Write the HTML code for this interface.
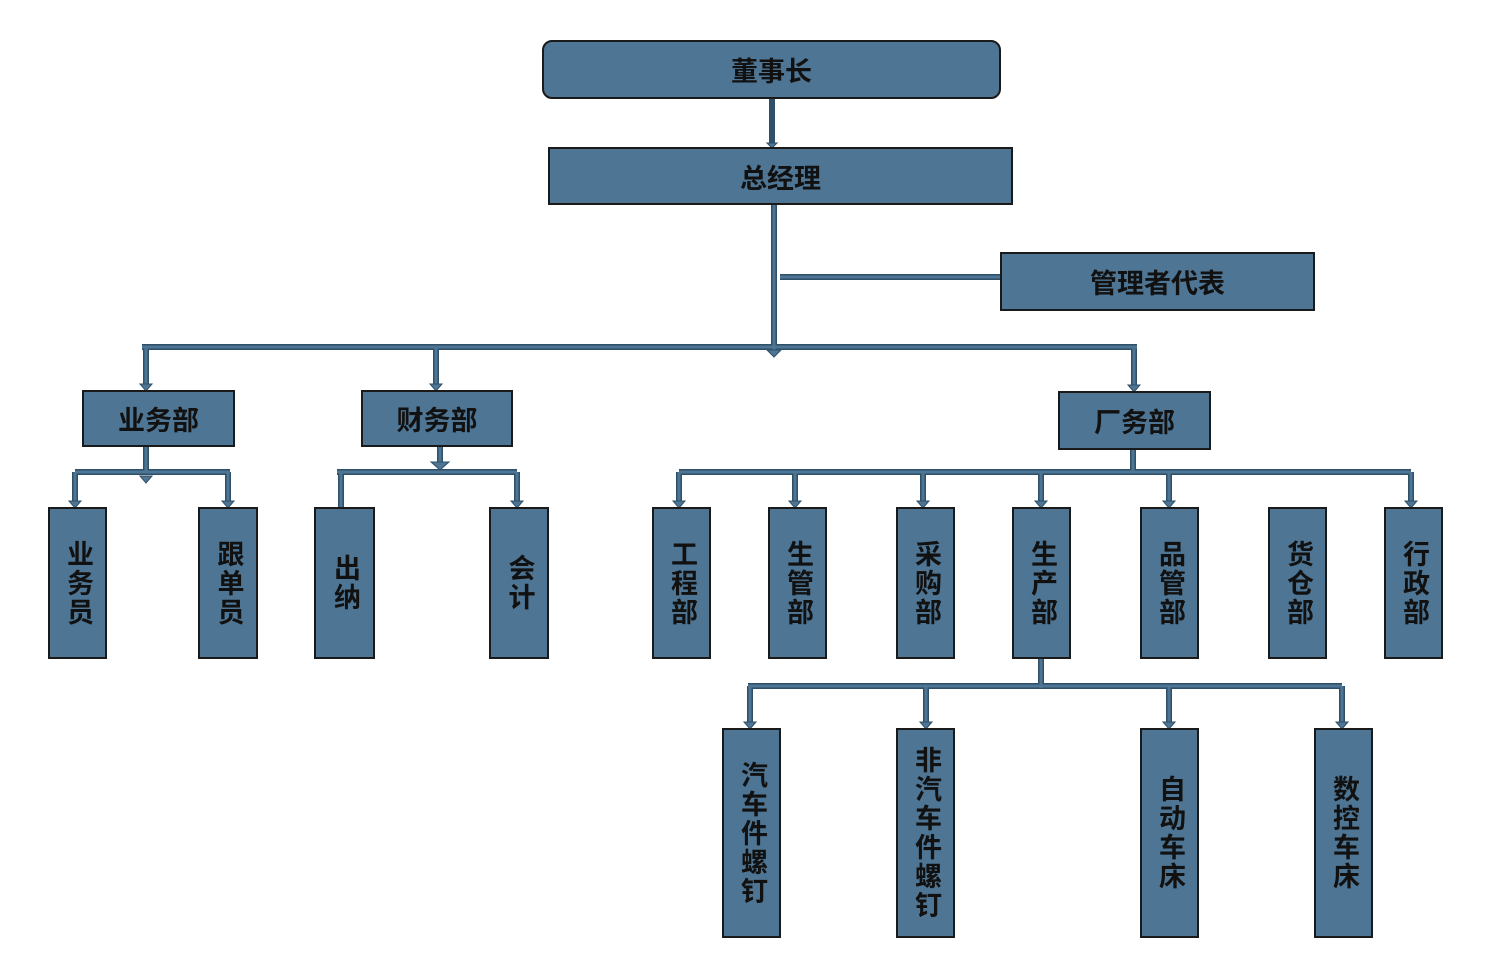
<!DOCTYPE html>
<html><head><meta charset="utf-8"><style>
body{margin:0;background:#fff;width:1500px;height:963px;overflow:hidden;position:relative;font-family:"Liberation Sans","Noto Sans CJK SC",sans-serif}
.b{position:absolute;background:#4e7593;border:2px solid #1a1a1a;box-sizing:border-box;display:flex;align-items:center;justify-content:center;color:#111;font-size:27px;font-weight:bold}
.v{writing-mode:vertical-rl;letter-spacing:2px;font-size:27px;line-height:1}
svg{position:absolute;left:0;top:0}
</style></head><body>
<svg width="1500" height="963">
<g stroke="#2e5069" stroke-width="6" fill="none"><path d="M772 98V144M774 195V350M780 277H1000M142 347H1137M146 347V386M436 347V386M1134 347V387M146 446V472M75 472H230M75 472V503M228 472V503M440 446V468M337 472H517M341 472V507M517 472V503M1133 449V472M679 472H1411M679 472V503M795 472V503M923 472V503M1041 472V503M1169 472V503M1411 472V503M1041 658V688M748 686H1342M750 686V724M926 686V724M1169 686V724M1342 686V724"/></g>
<g stroke="#4e7593" stroke-width="3" fill="none"><path d="M774 195V350M780 277H1000M142 347H1137M146 347V386M436 347V386M1134 347V387M146 446V472M75 472H230M75 472V503M228 472V503M440 446V468M337 472H517M341 472V507M517 472V503M1133 449V472M679 472H1411M679 472V503M795 472V503M923 472V503M1041 472V503M1169 472V503M1411 472V503M1041 658V688M748 686H1342M750 686V724M926 686V724M1169 686V724M1342 686V724"/></g>
<g fill="#4e7593" stroke="#2e5069" stroke-width="1">
<path d="M767 143h10l-5 5z"/><path d="M767 350h14l-7 7z"/>
<path d="M140 384h12l-6 7z"/><path d="M430 384h12l-6 7z"/><path d="M1128 385h12l-6 7z"/>
<path d="M140 476h12l-6 7z"/><path d="M69 501h12l-6 7z"/><path d="M222 501h12l-6 7z"/><path d="M431 462h18l-9 8z"/><path d="M511 501h12l-6 7z"/>
<path d="M673 501h12l-6 7z"/><path d="M789 501h12l-6 7z"/><path d="M917 501h12l-6 7z"/><path d="M1035 501h12l-6 7z"/><path d="M1163 501h12l-6 7z"/><path d="M1405 501h12l-6 7z"/>
<path d="M744 722h12l-6 7z"/><path d="M920 722h12l-6 7z"/><path d="M1163 722h12l-6 7z"/><path d="M1336 722h12l-6 7z"/>
</g>
</svg>
<div class="b" style="left:542px;top:40px;width:459px;height:59px;border-radius:10px">董事长</div>
<div class="b" style="left:548px;top:147px;width:465px;height:58px">总经理</div>
<div class="b" style="left:1000px;top:252px;width:315px;height:59px">管理者代表</div>
<div class="b" style="left:82px;top:390px;width:153px;height:57px">业务部</div>
<div class="b" style="left:361px;top:390px;width:152px;height:57px">财务部</div>
<div class="b" style="left:1058px;top:391px;width:153px;height:59px">厂务部</div>
<div class="b" style="left:48px;top:507px;width:59px;height:152px"><span class="v">业务员</span></div>
<div class="b" style="left:198px;top:507px;width:60px;height:152px"><span class="v">跟单员</span></div>
<div class="b" style="left:314px;top:507px;width:61px;height:152px"><span class="v">出纳</span></div>
<div class="b" style="left:489px;top:507px;width:60px;height:152px"><span class="v">会计</span></div>
<div class="b" style="left:652px;top:507px;width:59px;height:152px"><span class="v">工程部</span></div>
<div class="b" style="left:768px;top:507px;width:59px;height:152px"><span class="v">生管部</span></div>
<div class="b" style="left:896px;top:507px;width:59px;height:152px"><span class="v">采购部</span></div>
<div class="b" style="left:1012px;top:507px;width:59px;height:152px"><span class="v">生产部</span></div>
<div class="b" style="left:1140px;top:507px;width:59px;height:152px"><span class="v">品管部</span></div>
<div class="b" style="left:1268px;top:507px;width:59px;height:152px"><span class="v">货仓部</span></div>
<div class="b" style="left:1384px;top:507px;width:59px;height:152px"><span class="v">行政部</span></div>
<div class="b" style="left:722px;top:728px;width:59px;height:210px"><span class="v">汽车件螺钉</span></div>
<div class="b" style="left:896px;top:728px;width:59px;height:210px"><span class="v">非汽车件螺钉</span></div>
<div class="b" style="left:1140px;top:728px;width:59px;height:210px"><span class="v">自动车床</span></div>
<div class="b" style="left:1314px;top:728px;width:59px;height:210px"><span class="v">数控车床</span></div>
</body></html>
